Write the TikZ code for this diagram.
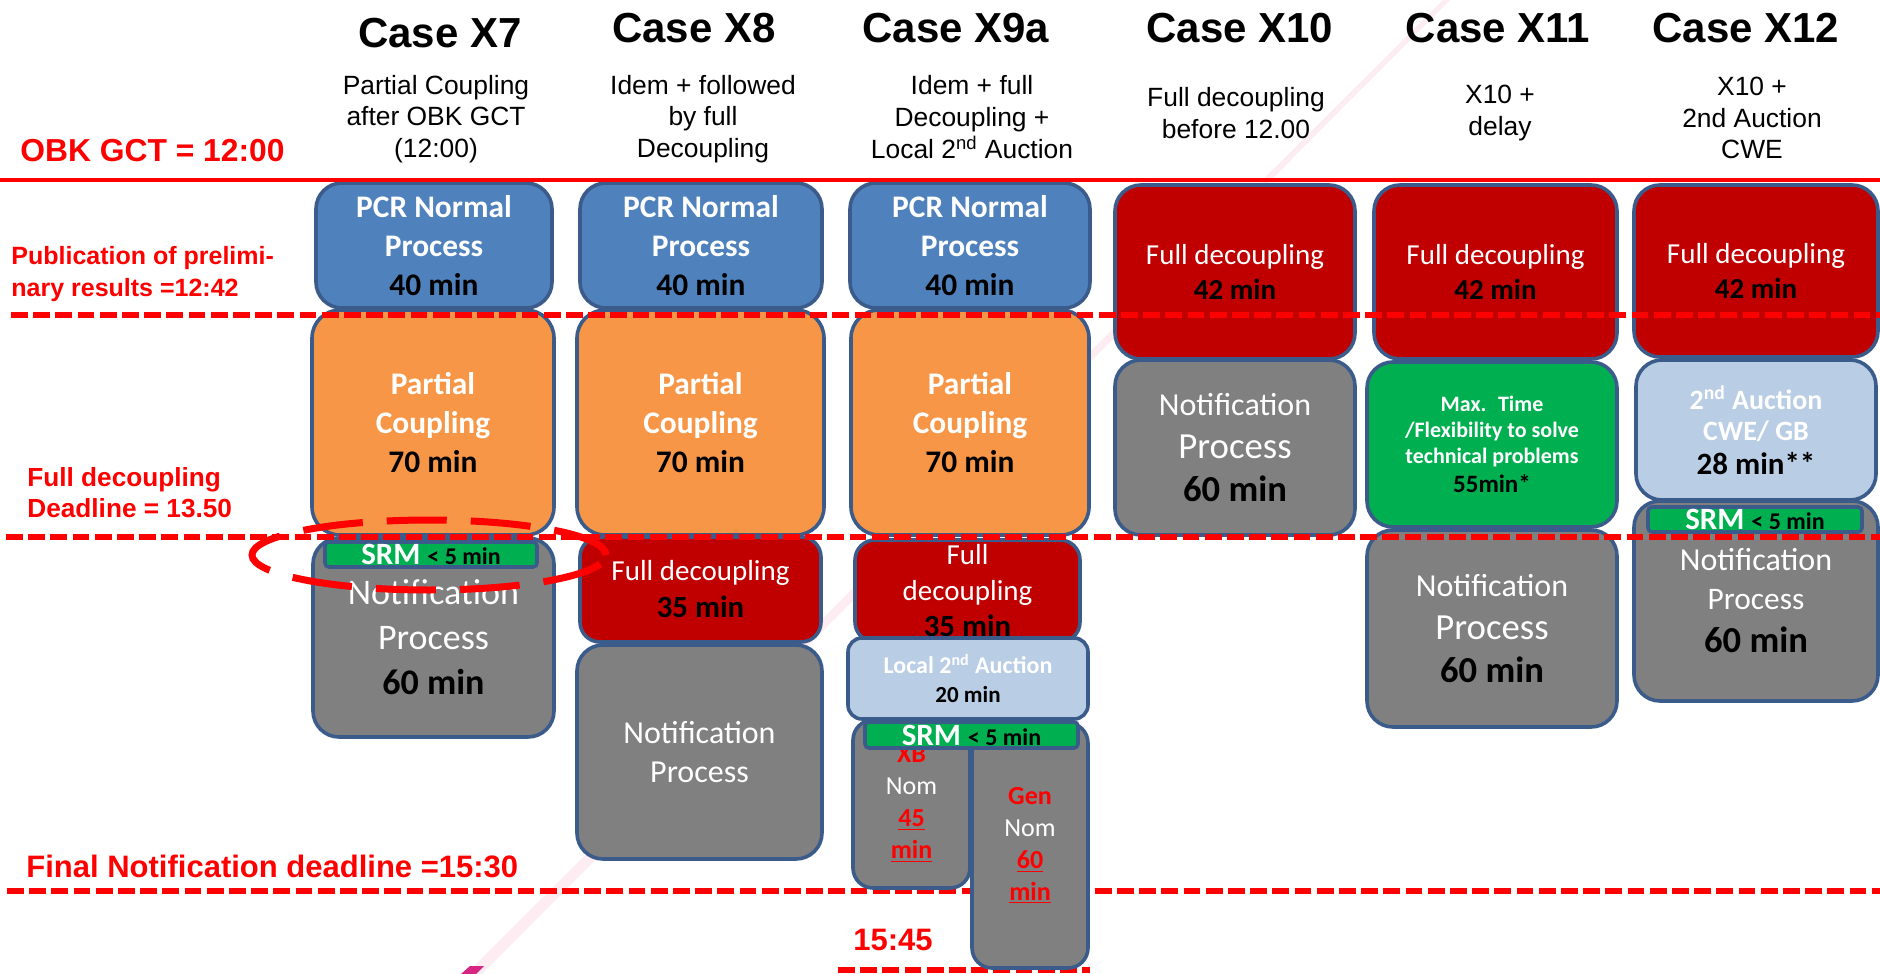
\documentclass[tikz,border=0pt]{standalone}
\usepackage{fontspec}
\setmainfont{Liberation Sans}
\newfontfamily\calibri{Carlito}
\definecolor{TimeRed}{RGB}{255,0,0}
\definecolor{BoxEdge}{RGB}{59,92,138}
\definecolor{PcrBlue}{RGB}{79,129,189}
\definecolor{CouplingOrange}{RGB}{247,150,70}
\definecolor{DecouplingRed}{RGB}{192,0,0}
\definecolor{NotifGray}{RGB}{128,128,128}
\definecolor{SrmGreen}{RGB}{0,176,80}
\definecolor{AuctionBlue}{RGB}{185,205,229}
\definecolor{FaintPink}{RGB}{253,237,242}
\definecolor{MarkMagenta}{RGB}{214,38,130}
\newcommand{\blk}[1]{\textcolor{black}{\bfseries #1}}
\newcommand{\redu}[1]{\textcolor{TimeRed}{\bfseries\underline{#1}}}
\tikzset{
  gctline/.style={draw=TimeRed,line width=2pt},
  cutline/.style={draw=TimeRed,line width=2.6pt,dash pattern=on 8.4pt off 2.7pt},
  ring/.style={draw=TimeRed,line width=3.5pt,dash pattern=on 30pt off 12pt},
  casetitle/.style={font=\bfseries\fontsize{21}{25}\selectfont,inner sep=0pt},
  casenote/.style={font=\fontsize{13.2}{15.8}\selectfont,align=center,inner sep=0pt},
  timelabel/.style={text=TimeRed,anchor=west,align=left,inner sep=0pt},
  stage/.style={draw=BoxEdge,line width=1.8pt,rounded corners=13pt,align=center,
    inner sep=0pt,text=white},
  pcrbox/.style={stage,fill=PcrBlue,font=\calibri\bfseries\fontsize{15.7}{19.3}\selectfont},
  couplingbox/.style={stage,fill=CouplingOrange,rounded corners=14pt,
    font=\calibri\bfseries\fontsize{15.7}{19.3}\selectfont},
  decouplingbox/.style={stage,fill=DecouplingRed,font=\calibri\fontsize{14.5}{17.5}\selectfont},
  notifbox/.style={stage,fill=NotifGray,font=\calibri\fontsize{16}{21.7}\selectfont},
  flexbox/.style={stage,fill=SrmGreen,font=\calibri\bfseries\fontsize{11}{13}\selectfont},
  auctionbox/.style={stage,fill=AuctionBlue,font=\calibri\bfseries\fontsize{14}{15.5}\selectfont},
  srmbar/.style={draw=BoxEdge,line width=1.8pt,rounded corners=2pt,fill=SrmGreen,
    inner sep=0pt,text=white,font=\calibri\bfseries}
}

\begin{document}
\begin{tikzpicture}[x=0.5pt,y=-0.5pt]
  \path[fill=white,use as bounding box] (0,0) rectangle (1880,974);
  \fill[FaintPink] (1443,0) -- (1450,0) -- (482,974) -- (466,974) -- cycle;
  \fill[MarkMagenta] (461,974) -- (470,966) -- (484,966) -- (476,974) -- cycle;
  % late deadlines, under the nomination boxes
  \draw[cutline] (7,891) -- (1880,891);
  \draw[cutline] (838,970) -- (1090,970);

  % Case X7
  \node[pcrbox,minimum width=118pt,minimum height=62.5pt] (pcrA) at (434,245.5) {PCR Normal\\Process\\\blk{40 min}};
  \node[couplingbox,minimum width=121pt,minimum height=112.5pt] (cplA) at (433,422.5) {Partial\\Coupling\\\blk{70 min}};
  \node[notifbox,minimum width=120.5pt,minimum height=99.5pt,font=\calibri\fontsize{18}{22.5}\selectfont] (notA) at (433.5,637.5) {Notification\\Process\\\blk{60 min}};
  \node[srmbar,minimum width=106pt,minimum height=12.5pt] (srmA) at (431,554.5) {\fontsize{15.5}{16}\selectfont SRM \textcolor{black}{\fontsize{12}{13}\selectfont < 5 min}};

  % Case X8
  \node[pcrbox,minimum width=121pt,minimum height=62.5pt] (pcrB) at (701,245.5) {PCR Normal\\Process\\\blk{40 min}};
  \node[couplingbox,minimum width=123.5pt,minimum height=112.5pt] (cplB) at (700.5,422.5) {Partial\\Coupling\\\blk{70 min}};
  \node[decouplingbox,minimum width=120.5pt,minimum height=52.5pt,rounded corners=10pt,font=\calibri\fontsize{14.5}{18.5}\selectfont] (decB) at (700.5,589.5) {Full decoupling\\\blk{\fontsize{15.4}{18.5}\selectfont 35 min}};
  \node[notifbox,minimum width=122.5pt,minimum height=107pt,font=\calibri\fontsize{16}{19.5}\selectfont] (notB) at (699.5,752) {Notification\\Process};

  % Case X9a
  \node[pcrbox,minimum width=120pt,minimum height=62.5pt] (pcrC) at (970,245.5) {PCR Normal\\Process\\\blk{40 min}};
  \node[couplingbox,minimum width=119pt,minimum height=112.5pt] (cplC) at (970,422.5) {Partial\\Coupling\\\blk{70 min}};
  \node[decouplingbox,minimum width=112.5pt,minimum height=51pt,rounded corners=10pt,font=\calibri\fontsize{14.5}{18}\selectfont] (decC) at (967.5,591) {Full\\decoupling\\\blk{\fontsize{15.4}{18}\selectfont 35 min}};
  \node[auctionbox,minimum width=120pt,minimum height=40.5pt,rounded corners=7pt,font=\calibri\bfseries\fontsize{12}{14.5}\selectfont] (auctC) at (968,678.5) {Local 2\textsuperscript{nd} Auction\\\blk{\fontsize{11.5}{14.5}\selectfont 20 min}};
  \node[notifbox,minimum width=58pt,minimum height=122.5pt,rounded corners=10pt,font=\calibri\fontsize{13}{16}\selectfont] (genC) at (1030,845.5) {\textcolor{TimeRed}{\bfseries Gen}\\Nom\\\redu{60}\\\redu{min}};
  \node[notifbox,minimum width=58.5pt,minimum height=84pt,rounded corners=10pt,font=\calibri\fontsize{13}{16}\selectfont] (xbC) at (911.5,804) {\textcolor{TimeRed}{\bfseries XB}\\Nom\\\redu{45}\\\redu{min}};
  \node[srmbar,minimum width=106.5pt,minimum height=13pt] (srmC) at (971.5,735) {\fontsize{15.5}{16}\selectfont SRM \textcolor{black}{\fontsize{12}{13}\selectfont < 5 min}};

  % Case X10
  \node[decouplingbox,minimum width=120pt,minimum height=87pt] (decD) at (1235,272) {Full decoupling\\\blk{42 min}};
  \node[notifbox,minimum width=120pt,minimum height=87.5pt] (notD) at (1235,447.5) {Notification\\{\fontsize{18.4}{21.7}\selectfont Process}\\\blk{\fontsize{18.3}{21.7}\selectfont 60 min}};

  % Case X11
  \node[decouplingbox,minimum width=121.5pt,minimum height=87pt] (decE) at (1495.5,272) {Full decoupling\\\blk{42 min}};
  \node[flexbox,minimum width=125pt,minimum height=82.5pt] (flexE) at (1492,444.5) {Max.~ Time\\/Flexibility to solve\\technical problems\\[1.5pt]\blk{\fontsize{12.5}{13}\selectfont 55min*}};
  \node[notifbox,minimum width=125pt,minimum height=98.5pt] (notE) at (1492,628.5) {Notification\\{\fontsize{18.4}{21.7}\selectfont Process}\\\blk{\fontsize{18.3}{21.7}\selectfont 60 min}};

  % Case X12
  \node[decouplingbox,minimum width=122pt,minimum height=86pt] (decF) at (1756,271) {Full decoupling\\\blk{42 min}};
  \node[notifbox,minimum width=122pt,minimum height=100pt,font=\calibri\fontsize{16}{19.5}\selectfont] (notF) at (1756,601) {Notification\\{\fontsize{15.7}{19.5}\selectfont Process}\\[2pt]\blk{\fontsize{18.3}{19.5}\selectfont 60 min}};
  \node[auctionbox,minimum width=120pt,minimum height=70pt] (auctF) at (1756,430) {2\textsuperscript{nd} Auction\\CWE/ GB\\[1.5pt]\blk{\fontsize{15.5}{17}\selectfont 28 min**}};
  \node[srmbar,minimum width=107pt,minimum height=12.5pt] (srmF) at (1755,519.5) {\fontsize{15.5}{16}\selectfont SRM \textcolor{black}{\fontsize{12}{13}\selectfont < 5 min}};

  % headings
  \node[casetitle] (ttlA) at (440,33) {Case X7};
  \node[casetitle] (ttlB) at (694,28) {Case X8};
  \node[casetitle] (ttlC) at (956,28) {Case X9a};
  \node[casetitle] (ttlD) at (1240,28) {Case X10};
  \node[casetitle] (ttlE) at (1498,28) {Case X11};
  \node[casetitle] (ttlF) at (1746,28) {Case X12};
  \node[casenote] (subA) at (436,119) {Partial Coupling\\after OBK GCT\\(12:00)};
  \node[casenote] (subB) at (703,119) {Idem + followed\\by full\\Decoupling};
  \node[casenote] (subC) at (972,117) {Idem + full\\Decoupling +\\Local 2\textsuperscript{nd} Auction};
  \node[casenote] (subD) at (1236,113) {Full decoupling\\before 12.00};
  \node[casenote] (subE) at (1500,113) {X10 +\\delay};
  \node[casenote] (subF) at (1752,118) {X10 +\\2nd Auction\\CWE};

  % time marks
  \node[timelabel,font=\bfseries\fontsize{15.9}{19}\selectfont] (gct) at (20,151) {OBK GCT = 12:00};
  \node[timelabel,font=\bfseries\fontsize{12.5}{15.8}\selectfont] (publ) at (11,274) {Publication of prelimi-\\nary results =12:42};
  \node[timelabel,font=\bfseries\fontsize{13.1}{15.5}\selectfont] (fdl) at (27,493) {Full decoupling\\Deadline = 13.50};
  \node[timelabel,font=\bfseries\fontsize{15.5}{18}\selectfont] (fnd) at (26,866) {Final Notification deadline =15:30};
  \node[timelabel,font=\bfseries\fontsize{15.5}{18}\selectfont] (late) at (853,940) {15:45};

  \draw[gctline] (0,180) -- (1880,180);
  \draw[cutline] (11,315) -- (1880,315);
  \draw[cutline] (6,537) -- (1880,537);
  \draw[ring] (429,555) ellipse [x radius=88.5pt,y radius=17.5pt];
\end{tikzpicture}
\end{document}
